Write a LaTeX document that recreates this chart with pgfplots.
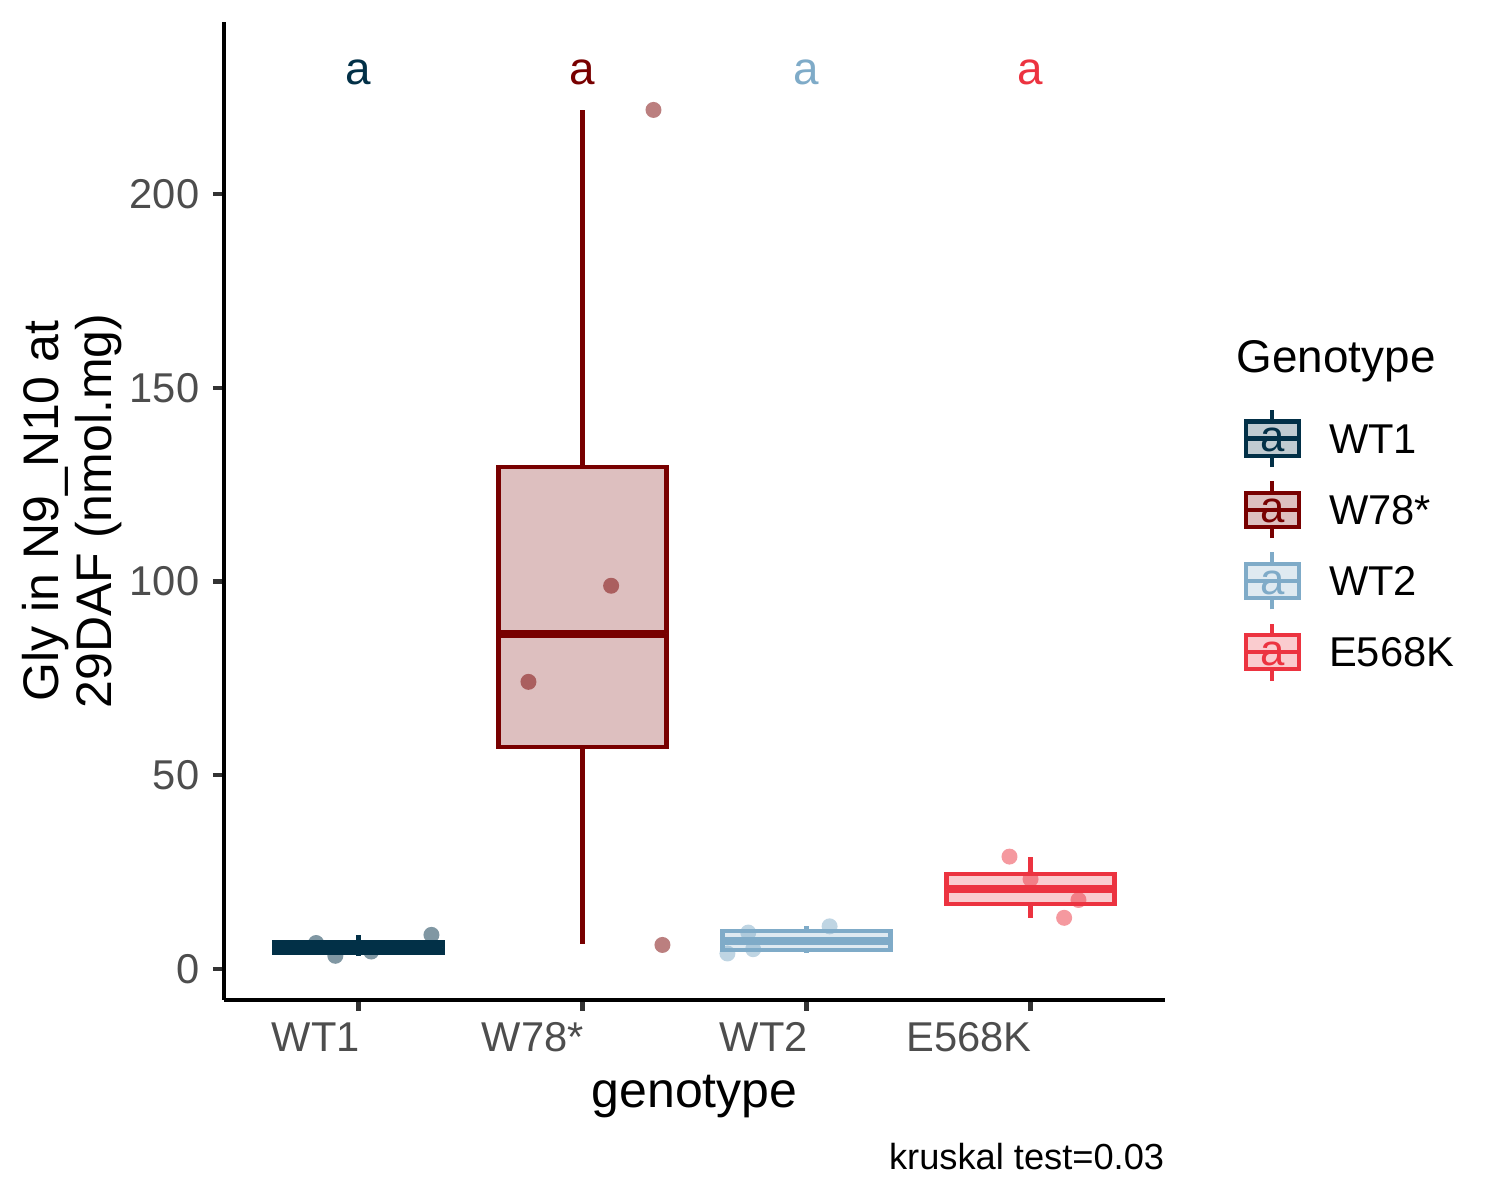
\documentclass[border=0pt]{standalone}
\usepackage{pgfplots}
\pgfplotsset{compat=1.18}
\usepgfplotslibrary{statistics}
\usepackage{fontspec}
\setmainfont{Liberation Sans}
\definecolor{c1}{HTML}{023047}
\definecolor{c2}{HTML}{780000}
\definecolor{c3}{HTML}{7FABC8}
\definecolor{c4}{HTML}{EC3340}
\definecolor{tickgrey}{HTML}{4D4D4D}
\newcommand{\legkey}[2]{\addlegendimage{legend image code/.code={
  \draw[#1, line width=1pt] (6.4pt,-3.26pt) -- (6.4pt,10.42pt);
  \draw[#1, fill=#2, line width=1pt] (0pt,-0.52pt) rectangle (12.8pt,7.68pt);
  \draw[#1, line width=1pt] (0pt,3.58pt) -- (12.8pt,3.58pt);
  \node[text=#1, inner sep=0pt, anchor=center, font=\fontsize{10.5}{12}\selectfont] at (6.4pt,2.5pt) {a};
}}}
\begin{document}
\begin{tikzpicture}
\useasboundingbox (0,0) rectangle (360pt,288pt);
\begin{axis}[
  at={(53.76pt,48pt)}, anchor=south west,
  scale only axis, width=225.84pt, height=234.72pt,
  xmin=0.4, xmax=4.6, ymin=-8.0, ymax=244.4,
  axis x line*=bottom, axis y line*=left,
  axis line style={-, line width=1pt, black},
  tick align=outside, major tick length=2.64pt,
  tick style={line width=1pt, color=black!80},
  xtick={1,2,3,4}, xticklabels={WT1,W78*,WT2,E568K},
  ytick={0,50,100,150,200},
  scaled ticks=false,
  /pgf/number format/assume math mode=true,
  ticklabel style={font=\fontsize{10}{12}\selectfont, text=tickgrey},
  xticklabel style={anchor=north east, inner xsep=0pt, inner ysep=2.6pt, xshift=0.5pt},
  yticklabel style={anchor=east, inner xsep=3.1pt},
  xlabel={genotype},
  xlabel style={at={(axis description cs:0.5,-0.1103)}, anchor=base, inner sep=0pt, font=\fontsize{12}{14}\selectfont},
  ylabel={Gly in N9\_N10 at\\29DAF (nmol.mg)},
  ylabel style={at={(axis description cs:-0.108,0.5)}, anchor=south, inner sep=0pt, align=center, font=\fontsize{12}{12.6}\selectfont},
  legend style={at={(axis description cs:1.0836,0.6053)}, anchor=north west, draw=none, fill=none,
    inner sep=0pt, outer sep=0pt, row sep=2.4pt, column sep=6.7pt,
    font=\fontsize{10}{12}\selectfont, nodes={inner sep=0pt}, cells={anchor=base west}},
  boxplot/draw direction=y,
  clip=false,
]
% boxplots
\addplot[forget plot, draw=c1, fill=c1!25, line width=1pt,
  boxplot prepared={draw position=1, lower whisker=3.4, lower quartile=4.1, median=5.6,
    upper quartile=7.0, upper whisker=8.7, box extend=0.75, whisker extend=0,
    every median/.style={line width=2pt}}] coordinates {};
\addplot[forget plot, draw=c2, fill=c2!25, line width=1pt,
  boxplot prepared={draw position=2, lower whisker=6.5, lower quartile=57.2, median=86.5,
    upper quartile=129.5, upper whisker=221.7, box extend=0.75, whisker extend=0,
    every median/.style={line width=2pt}}] coordinates {};
\addplot[forget plot, draw=c3, fill=c3!25, line width=1pt,
  boxplot prepared={draw position=3, lower whisker=4.0, lower quartile=4.8, median=7.2,
    upper quartile=9.7, upper whisker=11.1, box extend=0.75, whisker extend=0,
    every median/.style={line width=2pt}}] coordinates {};
\addplot[forget plot, draw=c4, fill=c4!25, line width=1pt,
  boxplot prepared={draw position=4, lower whisker=13.2, lower quartile=16.8, median=20.6,
    upper quartile=24.5, upper whisker=28.8, box extend=0.75, whisker extend=0,
    every median/.style={line width=2pt}}] coordinates {};
% jittered points
\addplot[forget plot, only marks, mark=*, mark size=1.92pt, color=c1, mark options={draw opacity=0, fill=c1, fill opacity=0.5}]
  coordinates {(0.811,6.7) (0.897,3.4) (1.057,4.5) (1.326,8.8)};
\addplot[forget plot, only marks, mark=*, mark size=1.92pt, color=c2, mark options={draw opacity=0, fill=c2, fill opacity=0.5}]
  coordinates {(2.317,221.7) (2.128,98.9) (1.759,74.1) (2.357,6.2)};
\addplot[forget plot, only marks, mark=*, mark size=1.92pt, color=c3, mark options={draw opacity=0, fill=c3, fill opacity=0.5}]
  coordinates {(2.647,4.0) (2.740,9.4) (2.762,5.1) (3.103,11.0)};
\addplot[forget plot, only marks, mark=*, mark size=1.92pt, color=c4, mark options={draw opacity=0, fill=c4, fill opacity=0.5}]
  coordinates {(3.906,29.0) (4.0,23.2) (4.214,17.8) (4.150,13.2)};
% letters
\node[text=c1, font=\fontsize{11}{13}\selectfont, inner sep=0pt] at (axis cs:1,231.4) {a};
\node[text=c2, font=\fontsize{11}{13}\selectfont, inner sep=0pt] at (axis cs:2,231.4) {a};
\node[text=c3, font=\fontsize{11}{13}\selectfont, inner sep=0pt] at (axis cs:3,231.4) {a};
\node[text=c4, font=\fontsize{11}{13}\selectfont, inner sep=0pt] at (axis cs:4,231.4) {a};
% legend
\legkey{c1}{c1!25}\addlegendentry{WT1}
\legkey{c2}{c2!25}\addlegendentry{W78*}
\legkey{c3}{c3!25}\addlegendentry{WT2}
\legkey{c4}{c4!25}\addlegendentry{E568K}
\node[anchor=base west, inner sep=0pt, font=\fontsize{11}{13}\selectfont] at (axis description cs:1.0754,0.6411) {Genotype};
\node[anchor=base east, inner sep=0pt, font=\fontsize{8.7}{10}\selectfont] at (axis description cs:1.0,-0.1730) {kruskal test=0.03};
\end{axis}
\end{tikzpicture}
\end{document}
